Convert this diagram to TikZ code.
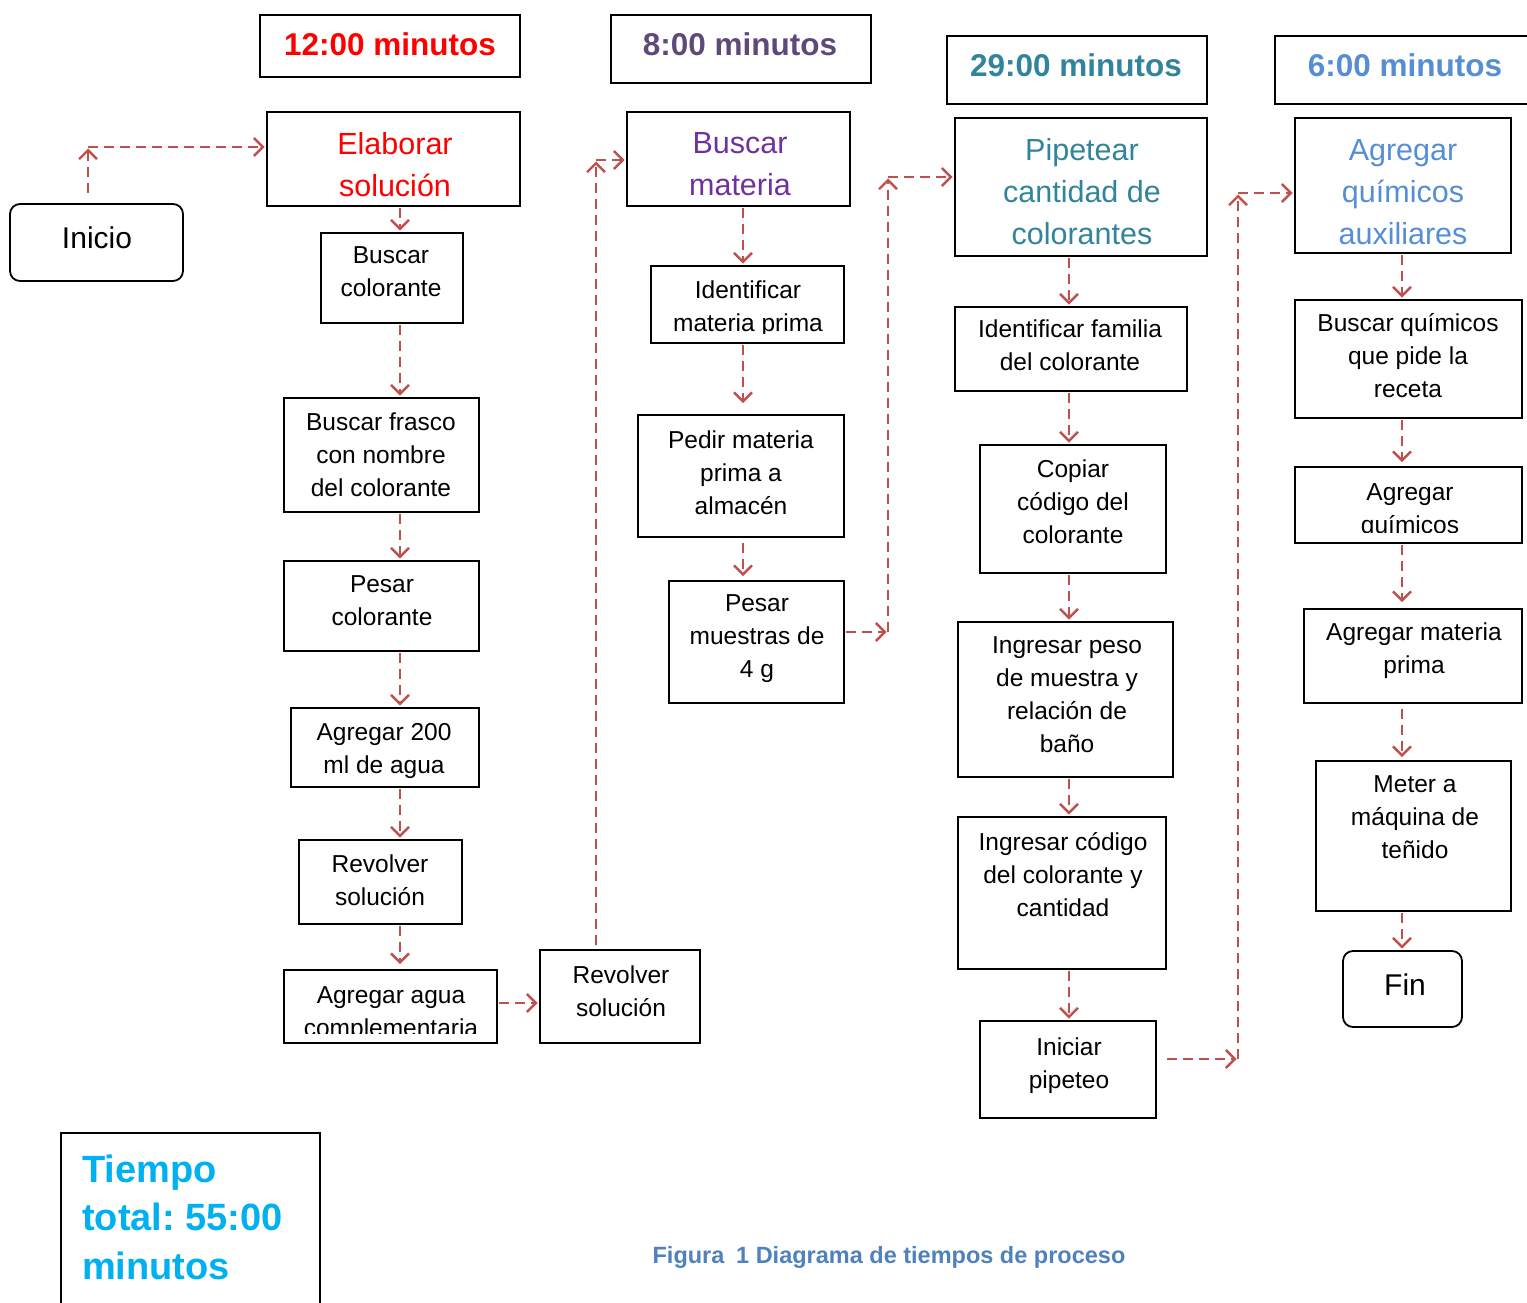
\documentclass[tikz,border=0pt]{standalone}
\usepackage{fontspec}
\setmainfont{Liberation Sans}
\usetikzlibrary{arrows.meta}
\frenchspacing
\definecolor{cRed}{HTML}{FF0000}
\definecolor{cPurH}{HTML}{5F497A}
\definecolor{cPur}{HTML}{7030A0}
\definecolor{cTeal}{HTML}{31849B}
\definecolor{cBlue}{HTML}{558ED5}
\definecolor{cCyan}{HTML}{00B0F0}
\definecolor{cCap}{HTML}{4F81BD}
\definecolor{cArr}{HTML}{C0504D}
\newcommand\myBody{\fontsize{24.5}{33}\selectfont}
\newcommand\myBig{\fontsize{30.5}{42}\selectfont}
\newcommand\myHead{\bfseries\fontsize{31.5}{38}\selectfont}
\newcommand\myEnd{\fontsize{30}{36}\selectfont}
\newcommand\myTot{\bfseries\fontsize{38}{48.5}\selectfont}
\newcommand\myCap{\bfseries\fontsize{23.5}{28}\selectfont}
\newcommand\bx[6][]{\node[boxst,#1,minimum width={(#4-#2)*1pt},minimum height={(#5-#3)*1pt}] (#6) at ({(#2+#4)/2},{(#3+#5)/2}) {};}
\newcommand\tx[5]{\node[#1] (#2) at (#3,#4) {\strut #5};}
\tikzset{
  boxst/.style={draw=black, line width=1.8pt, inner sep=0pt},
  rnd/.style={rounded corners=10pt},
  tbody/.style={font=\myBody, anchor=north, yshift=23.1pt, inner sep=0pt, align=center},
  tbig/.style={font=\myBig, anchor=north, yshift=29.4pt, inner sep=0pt, align=center},
  thead/.style={font=\myHead, anchor=north, yshift=26.6pt, inner sep=0pt, align=center},
  tend/.style={font=\myEnd, anchor=north, yshift=25.2pt, inner sep=0pt, align=center},
  ttot/.style={font=\myTot, anchor=north west, yshift=33.95pt, inner sep=0pt, align=left, text=cCyan},
  tcap/.style={font=\myCap, anchor=north, yshift=19.6pt, inner sep=0pt, text=cCap},
  conn/.style={draw=cArr, line width=2.5pt, dash pattern=on 10pt off 6pt,
    -{Straight Barb[length=9pt,width=18pt,line width=2.4pt]}, shorten >=1.5pt, shorten <=1.5pt},
}
\begin{document}
\begin{tikzpicture}[x=1pt,y=-1pt]
\useasboundingbox (0,0) rectangle (1527,1303);
% header boxes
\bx{260}{15}{520}{77}{h1}
\bx{611}{15}{871}{83}{h2}
\bx{947}{36}{1207}{104}{h3}
\bx{1275}{36}{1545}{104}{h4}
\tx{thead,text=cRed}{t-h1}{390}{55}{12:00 minutos}
\tx{thead,text=cPurH}{t-h2}{740}{55}{8:00 minutos}
\tx{thead,text=cTeal}{t-h3}{1076}{76}{29:00 minutos}
\tx{thead,text=cBlue}{t-h4}{1405}{76}{6:00 minutos}
% start / end
\bx[rnd]{10}{204}{183}{281}{inicio}
\tx{tend}{t-inicio}{97}{248}{Inicio}
\bx[rnd]{1343}{951}{1462}{1027}{fin}
\tx{tend}{t-fin}{1405}{995}{Fin}
% main boxes
\bx{267}{112}{520}{206}{elab}
\tx{tbig,text=cRed}{t-elab}{395}{154}{Elaborar\\soluci\'on}
\bx{627}{112}{850}{206}{bmat}
\tx{tbig,text=cPur}{t-bmat}{740}{153}{Buscar\\materia}
\bx{955}{118}{1207}{256}{pip}
\tx{tbig,text=cTeal}{t-pip}{1082}{160}{Pipetear\\cantidad de\\colorantes}
\bx{1295}{118}{1511}{253}{aux}
\tx{tbig,text=cBlue}{t-aux}{1403}{160}{Agregar\\qu\'imicos\\auxiliares}
% column A
\bx{321}{233}{463}{323}{bcol}
\tx{tbody}{t-bcol}{391}{263}{Buscar\\colorante}
\bx{284}{398}{479}{512}{frasco}
\tx{tbody}{t-frasco}{381}{430}{Buscar frasco\\con nombre\\del colorante}
\bx{284}{561}{479}{651}{pesar}
\tx{tbody}{t-pesar}{382}{592}{Pesar\\colorante}
\bx{291}{708}{479}{787}{agr200}
\tx{tbody}{t-agr200}{384}{740}{Agregar 200\\ml de agua}
\bx{299}{840}{462}{924}{rev1}
\tx{tbody}{t-rev1}{380}{872}{Revolver\\soluci\'on}
\bx{284}{970}{497}{1043}{agua}
\begin{scope}
\clip (284,970) rectangle (497,1033);
\tx{tbody}{t-agua}{391}{1003}{Agregar agua\\complementaria}
\end{scope}
\bx{540}{950}{700}{1043}{rev2}
\tx{tbody}{t-rev2}{621}{983}{Revolver\\soluci\'on}
% column B
\bx{651}{266}{844}{343}{ident}
\begin{scope}
\clip (651,266) rectangle (844,333);
\tx{tbody}{t-ident}{748}{298}{Identificar\\materia prima}
\end{scope}
\bx{638}{415}{844}{537}{pedir}
\tx{tbody}{t-pedir}{741}{448}{Pedir materia\\prima a\\almac\'en}
\bx{669}{581}{844}{703}{pesm}
\tx{tbody}{t-pesm}{757}{611}{Pesar\\muestras de\\4 g}
% column C
\bx{955}{307}{1187}{391}{ifam}
\tx{tbody}{t-ifam}{1070}{337}{Identificar familia\\del colorante}
\bx{980}{445}{1166}{573}{copiar}
\tx{tbody}{t-copiar}{1073}{477}{Copiar\\c\'odigo del\\colorante}
\bx{958}{622}{1173}{777}{ipeso}
\tx{tbody}{t-ipeso}{1067}{653}{Ingresar peso\\de muestra y\\relaci\'on de\\ba\~no}
\bx{958}{817}{1166}{969}{icod}
\tx{tbody}{t-icod}{1063}{850}{Ingresar c\'odigo\\del colorante y\\cantidad}
\bx{980}{1021}{1156}{1118}{inic}
\tx{tbody}{t-inic}{1069}{1055}{Iniciar\\pipeteo}
% column D
\bx{1295}{300}{1522}{418}{bquim}
\tx{tbody}{t-bquim}{1408}{331}{Buscar qu\'imicos\\que pide la\\receta}
\bx{1295}{467}{1522}{543}{agq}
\begin{scope}
\clip (1295,467) rectangle (1522,532);
\tx{tbody}{t-agq}{1410}{500}{Agregar\\qu\'imicos}
\end{scope}
\bx{1304}{609}{1522}{703}{agmp}
\tx{tbody}{t-agmp}{1414}{640}{Agregar materia\\prima}
\bx{1316}{761}{1511}{911}{meter}
\tx{tbody}{t-meter}{1415}{792}{Meter a\\m\'aquina de\\te\~nido}
% total + caption
\bx{61}{1133}{320}{1330}{tot}
\tx{ttot}{t-tot}{82}{1182}{Tiempo\\total: 55:00\\minutos}
\tx{tcap}{t-cap}{889}{1263}{Figura\hspace{0.5em}1 Diagrama de tiempos de proceso}
% helper coordinates
\coordinate (colA) at (400,0);
\coordinate (colB) at (743,0);
\coordinate (colC) at (1069,0);
\coordinate (colD) at (1402,0);
\coordinate (s0) at (88,193);
\coordinate (s1) at (88,147);
\coordinate (ya) at (0,1003);
\coordinate (b1) at (596,160);
\coordinate (c1) at (888,632);
\coordinate (c2) at (888,177);
\coordinate (d1) at (1238,1059);
\coordinate (d2) at (1238,193);
% connectors
\draw[conn, shorten <=0pt] (s0) -- (s1);
\draw[conn, shorten <=0pt] (s1) -- (s1 -| elab.west);
\draw[conn] (colA |- elab.south) -- (colA |- bcol.north);
\draw[conn] (colA |- bcol.south) -- (colA |- frasco.north);
\draw[conn] (colA |- frasco.south) -- (colA |- pesar.north);
\draw[conn] (colA |- pesar.south) -- (colA |- agr200.north);
\draw[conn] (colA |- agr200.south) -- (colA |- rev1.north);
\draw[conn, shorten >=5pt] (colA |- rev1.south) -- (colA |- agua.north);
\draw[conn] (agua.east |- ya) -- (rev2.west |- ya);
\draw[conn, shorten <=4pt] (b1 |- rev2.north) -- (b1);
\draw[conn, shorten <=0pt] (b1) -- (b1 -| bmat.west);
\draw[conn] (colB |- bmat.south) -- (colB |- ident.north);
\draw[conn, shorten >=11pt] (colB |- ident.south) -- (colB |- pedir.north);
\draw[conn, shorten <=5pt, shorten >=4pt] (colB |- pedir.south) -- (colB |- pesm.north);
\draw[conn] (pesm.east |- c1) -- (c1);
\draw[conn, shorten <=0pt] (c1) -- (c2);
\draw[conn, shorten <=0pt] (c2) -- (c2 -| pip.west);
\draw[conn] (colC |- pip.south) -- (colC |- ifam.north);
\draw[conn] (colC |- ifam.south) -- (colC |- copiar.north);
\draw[conn] (colC |- copiar.south) -- (colC |- ipeso.north);
\draw[conn] (colC |- ipeso.south) -- (colC |- icod.north);
\draw[conn] (colC |- icod.south) -- (colC |- inic.north);
\draw[conn, shorten <=10pt] (inic.east |- d1) -- (d1);
\draw[conn, shorten <=0pt] (d1) -- (d2);
\draw[conn, shorten <=0pt] (d2) -- (d2 -| aux.west);
\draw[conn] (colD |- aux.south) -- (colD |- bquim.north);
\draw[conn, shorten >=4pt] (colD |- bquim.south) -- (colD |- agq.north);
\draw[conn, shorten >=6pt] (colD |- agq.south) -- (colD |- agmp.north);
\draw[conn, shorten <=5pt, shorten >=3pt] (colD |- agmp.south) -- (colD |- meter.north);
\draw[conn] (colD |- meter.south) -- (colD |- fin.north);
\end{tikzpicture}
\end{document}
